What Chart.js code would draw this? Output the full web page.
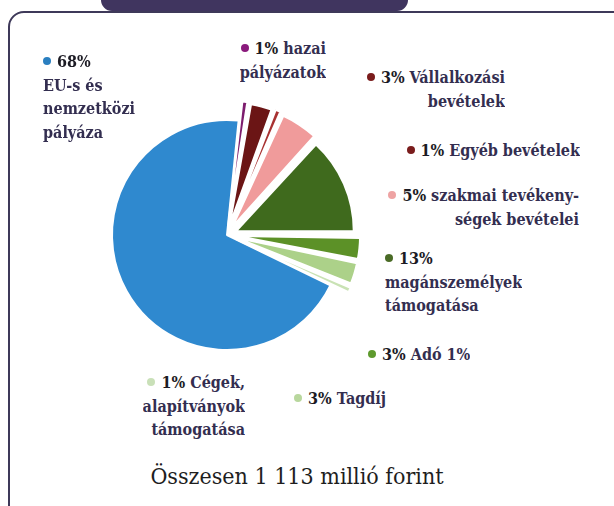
<!DOCTYPE html>
<html>
<head>
<meta charset="utf-8">
<script src="https://cdn.jsdelivr.net/npm/chart.js@4.4.1/dist/chart.umd.min.js"></script>
<style>
html, body { margin: 0; padding: 0; background: #fff; width: 614px; height: 506px; overflow: hidden; position: relative; }
.frame { position: absolute; left: 8px; top: 11px; width: 640px; height: 520px; border: 2px solid #3e3959;
  border-radius: 16px; box-sizing: border-box; }
.tab { position: absolute; left: 101px; top: 0; width: 307px; height: 11px; background: #40355f; border-radius: 0 0 13px 13px; }
/* a kivágott szeletek eltolása miatt nagyobb a vászon: 230 + 2 + 40 */
#pie { position: absolute; left: 91px; top: 99px; width: 272px; height: 272px; }
.lbl { position: absolute; font-family: "DejaVu Serif Condensed", "DejaVu Serif"; font-weight: bold; font-size: 16px;
  line-height: 23.5px; color: #332e50; white-space: nowrap; }
.lbl div { overflow: hidden; }
.dot { display: inline-block; width: 8px; height: 8px; border-radius: 50%; margin-right: 6px; position: relative; top: -2px; }
.pct { color: #1c1b24; }
.total { position: absolute; left: 0; width: 594px; text-align: center; top: 463px;
  font-family: "DejaVu Serif Condensed", "DejaVu Serif"; font-size: 23px; color: #1e1e1e; }
</style>
</head>
<body>
<div class="frame"></div>
<div class="tab"></div>
<div id="pie"><canvas id="chart"></canvas></div>
<div class="total" id="total"></div>
<script>
// adatok (a kép alapján)
const categories = [
  '\nEU-s és\nnemzetközi\npályázatok',
  'hazai\npályázatok',
  'Vállalkozási\nbevételek',
  'Egyéb bevételek',
  'szakmai tevékeny-\nségek bevételei',
  '\nmagánszemélyek\ntámogatása',
  'Adó 1%',
  'Tagdíj',
  'Cégek,\nalapítványok\ntámogatása'
];
const values = [68, 1, 3, 1, 5, 13, 3, 3, 1];
const totalText = 'Összesen 1 113 millió forint';

const sliceColors = ['#2f89cf', '#7d1d6e', '#6b1515', '#a83232', '#f09b9b', '#3f6a1d', '#5c9127', '#acd189', '#c9e2b4'];
const dotColors = ['#2a7fc0', '#8a1a7c', '#7a1c1c', '#7a1c1c', '#eea3a3', '#4a6b26', '#5e9a2e', '#b8d79d', '#c9e0b8'];
const offsets = [0, 40, 40, 40, 40, 40, 40, 40, 40];

// címkék helye: x = bal vagy jobb szél, y = első sor teteje
const labelLayout = [
  { x: 43, y: 50, align: 'left', clip: { line: 3, width: 60 } },
  { x: 326, y: 37, align: 'right' },
  { x: 505, y: 66, align: 'right' },
  { x: 580, y: 139, align: 'right' },
  { x: 579, y: 184, align: 'right' },
  { x: 385, y: 247, align: 'left' },
  { x: 368, y: 343, align: 'left' },
  { x: 294, y: 387, align: 'left' },
  { x: 245, y: 371, align: 'right' }
];

for (let i = 0; i < categories.length; i++) {
  const lay = labelLayout[i];
  const lines = categories[i].split('\n');
  const el = document.createElement('div');
  el.className = 'lbl';
  el.style.top = lay.y + 'px';
  el.style.textAlign = lay.align;
  if (lay.align === 'left') el.style.left = lay.x + 'px';
  else el.style.right = (614 - lay.x) + 'px';
  for (let j = 0; j < lines.length; j++) {
    const row = document.createElement('div');
    if (j === 0) {
      row.innerHTML = '<span class="dot" style="background:' + dotColors[i] + '"></span>' +
        '<span class="pct">' + values[i] + '%</span>' + (lines[0] ? ' ' + lines[0] : '');
    } else {
      row.textContent = lines[j];
    }
    if (lay.clip && lay.clip.line === j) row.style.width = lay.clip.width + 'px';
    el.appendChild(row);
  }
  document.body.appendChild(el);
}
document.getElementById('total').textContent = totalText;

new Chart(document.getElementById('chart'), {
  type: 'pie',
  data: {
    labels: categories.map(c => c.replace(/\n/g, ' ').trim()),
    datasets: [{
      data: values,
      backgroundColor: sliceColors,
      borderColor: '#ffffff',
      borderWidth: 2,
      offset: offsets
    }]
  },
  options: {
    responsive: true,
    maintainAspectRatio: false,
    animation: false,
    rotation: 116,
    layout: { padding: 0 },
    plugins: {
      legend: { display: false },
      tooltip: { enabled: false }
    }
  }
});
</script>
</body>
</html>
